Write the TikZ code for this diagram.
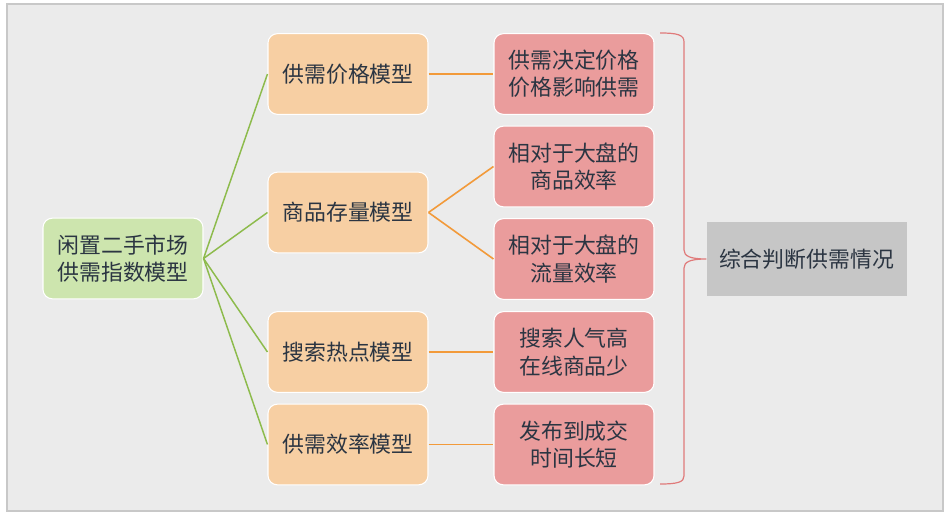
\documentclass[tikz,border=0pt]{standalone}
\usepackage{fontspec}
\newfontfamily\cjk{Noto Sans CJK SC}
\definecolor{bgfill}{HTML}{EBEBEB}
\definecolor{bgline}{HTML}{C8C8C8}
\definecolor{rootfill}{HTML}{CDE5AE}
\definecolor{modelfill}{HTML}{F7CFA3}
\definecolor{notefill}{HTML}{EA9C9C}
\definecolor{sumfill}{HTML}{C6C6C6}
\definecolor{txt}{HTML}{2B3542}
\definecolor{greenline}{HTML}{8DBB4C}
\definecolor{orangeline}{HTML}{F29A3A}
\definecolor{braceline}{HTML}{E07A7A}
\tikzset{
  box/.style={rounded corners=7pt, draw=white, line width=0.8pt,
    minimum width=120pt, minimum height=60.5pt, align=center, text=txt,
    font=\cjk\fontsize{16.4}{20.5}\selectfont},
  rootbox/.style={box, fill=rootfill},
  modelbox/.style={box, fill=modelfill},
  notebox/.style={box, fill=notefill},
  sumbox/.style={fill=sumfill, minimum width=150pt, minimum height=55.5pt,
    text=txt, font=\cjk\fontsize{16.4}{20.5}\selectfont},
  greenlink/.style={greenline, line width=1.1pt},
  orangelink/.style={orangeline, line width=1.2pt},
  bracelink/.style={braceline, line width=0.9pt}
}
\begin{document}
\begin{tikzpicture}[x=0.75pt,y=-0.75pt]
\useasboundingbox (0,0) rectangle (949,516);
\draw[fill=bgfill, draw=bgline, line width=0.8pt] (7,4) rectangle (943,511);

\node[rootbox] (root) at (123,258.5) {闲置二手市场\\供需指数模型};

\node[modelbox] (price) at (348,74) {供需价格模型};
\node[modelbox] (stock) at (348,212.5) {商品存量模型};
\node[modelbox] (search) at (348,352) {搜索热点模型};
\node[modelbox] (effic) at (348,444.5) {供需效率模型};

\node[notebox] (pricenote) at (574,74) {供需决定价格\\价格影响供需};
\node[notebox] (goodsnote) at (574,166.5) {相对于大盘的\\商品效率};
\node[notebox] (flownote) at (574,259) {相对于大盘的\\流量效率};
\node[notebox] (searchnote) at (574,352) {搜索人气高\\在线商品少};
\node[notebox] (efficnote) at (574,444.5) {发布到成交\\时间长短};

\node[sumbox] (sum) at (806.5,259) {综合判断供需情况};

\draw[greenlink] (root.east) -- (price.west);
\draw[greenlink] (root.east) -- (stock.west);
\draw[greenlink] (root.east) -- (search.west);
\draw[greenlink] (root.east) -- (effic.west);

\draw[orangelink] (price.east) -- (pricenote.west);
\draw[orangelink] (stock.east) -- (goodsnote.west);
\draw[orangelink] (stock.east) -- (flownote.west);
\draw[orangelink] (search.east) -- (searchnote.west);
\draw[orangelink] (effic.east) -- (efficnote.west);

\coordinate (bracetop) at (660,33);
\coordinate (bracebot) at (660,484);
\draw[bracelink] (bracetop) .. controls (678,33) and (684,35) .. (684,42)
  -- (684,250) .. controls (684,256) and (690,259) .. (sum.west)
  .. controls (690,259) and (684,262) .. (684,268)
  -- (684,476) .. controls (684,482) and (678,484) .. (bracebot);
\end{tikzpicture}
\end{document}
